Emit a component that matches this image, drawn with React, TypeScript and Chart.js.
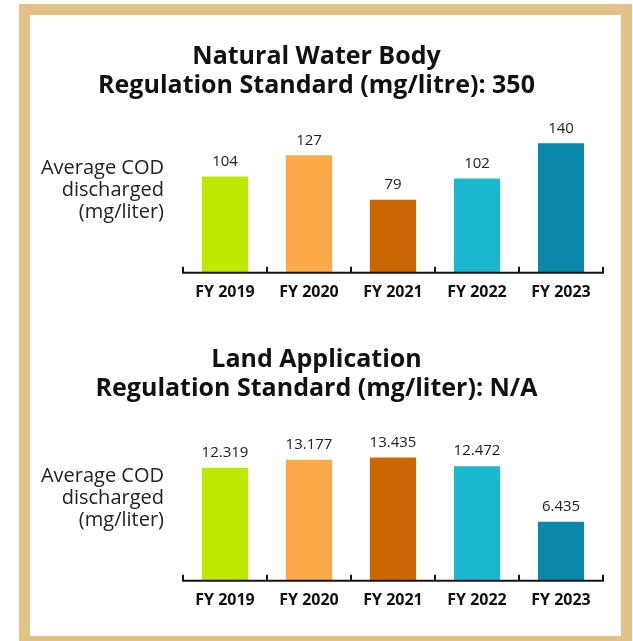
import React, { useEffect, useRef } from "react";
import { Chart, registerables } from "chart.js";

Chart.register(...registerables);

const categories = ["FY 2019", "FY 2020", "FY 2021", "FY 2022", "FY 2023"];
const waterValues = [104, 127, 79, 102, 140];
const landValues = [12.319, 13.177, 13.435, 12.472, 6.435];
const barColors = ["#BDE800", "#FCA94A", "#CC6603", "#1AB7CF", "#0A88A9"];
const waterTitle = ["Natural Water Body", "Regulation Standard (mg/litre): 350"];
const landTitle = ["Land Application", "Regulation Standard (mg/liter): N/A"];
const yLabelLines = ["Average COD", "discharged", "(mg/liter)"];

const FONT = "'Open Sans', 'Noto Sans', sans-serif";

const decorPlugin = {
  id: "codDecor",
  afterDatasetsDraw(chart: any, _args: any, opts: any) {
    const { ctx, chartArea } = chart;
    const xs = chart.scales.x;
    const n = chart.data.labels.length;
    const step = xs.width / n;
    ctx.save();
    // axis line
    ctx.strokeStyle = "#151515";
    ctx.lineWidth = 2;
    ctx.beginPath();
    ctx.moveTo(xs.left - 1, chartArea.bottom);
    ctx.lineTo(xs.right + 1, chartArea.bottom);
    ctx.stroke();
    // upward ticks at category boundaries
    for (let i = 0; i <= n; i++) {
      const px = xs.left + i * step;
      ctx.beginPath();
      ctx.moveTo(px, chartArea.bottom);
      ctx.lineTo(px, chartArea.bottom - 6);
      ctx.stroke();
    }
    // value labels
    const meta = chart.getDatasetMeta(0);
    const data = chart.data.datasets[0].data;
    ctx.fillStyle = "#222";
    ctx.font = `15px ${FONT}`;
    ctx.textAlign = "center";
    ctx.textBaseline = "middle";
    meta.data.forEach((bar: any, i: number) => {
      ctx.fillText(String(data[i]), bar.x, bar.y - 15);
    });
    // y label
    ctx.font = `20px ${FONT}`;
    ctx.textAlign = "right";
    const lines: string[] = opts.lines || [];
    const offs = [-105, -83, -61];
    lines.forEach((t, i) => {
      ctx.fillText(t, chartArea.left - 19, chartArea.bottom + offs[i]);
    });
    ctx.restore();
  },
};

type PanelProps = {
  values: number[];
  title: string[];
  max: number;
  top: number;
  height: number;
  titlePadTop: number;
  titlePadBottom: number;
  bottomPad: number;
};

function BarPanel(p: PanelProps) {
  const ref = useRef<HTMLCanvasElement | null>(null);
  useEffect(() => {
    if (!ref.current) return;
    const chart = new Chart(ref.current, {
      type: "bar",
      data: {
        labels: categories,
        datasets: [
          {
            data: p.values,
            backgroundColor: barColors,
            borderWidth: 0,
            categoryPercentage: 1,
            barPercentage: 0.55,
          },
        ],
      },
      options: {
        responsive: false,
        animation: false,
        layout: { padding: { left: 0, right: 18, top: 0, bottom: p.bottomPad } },
        plugins: {
          legend: { display: false },
          tooltip: { enabled: false },
          title: {
            display: true,
            text: p.title,
            color: "#111",
            font: { family: FONT, size: 25, weight: "bold", lineHeight: 29 / 25 },
            padding: { top: p.titlePadTop, bottom: p.titlePadBottom },
          },
          codDecor: { lines: yLabelLines },
        } as any,
        scales: {
          x: {
            grid: { display: false, drawTicks: false },
            border: { display: false },
            ticks: {
              color: "#111",
              padding: 10,
              font: { family: FONT, size: 16, weight: "bold" },
              maxRotation: 0,
            },
          },
          y: {
            min: 0,
            max: p.max,
            grid: { display: false, drawTicks: false },
            border: { display: false },
            ticks: { display: false },
            afterFit: (scale: any) => {
              scale.width = 153;
            },
          },
        },
      },
      plugins: [decorPlugin],
    });
    return () => chart.destroy();
  }, []);
  return (
    <canvas
      ref={ref}
      width={591}
      height={p.height}
      style={{ position: "absolute", left: 30, top: p.top, width: 591, height: p.height }}
    />
  );
}

export default function App() {
  return (
    <div
      style={{
        position: "fixed",
        left: 0,
        top: 0,
        width: 633,
        height: 641,
        background: "#fff",
        overflow: "hidden",
      }}
    >
      <div
        style={{
          position: "absolute",
          left: 19,
          top: 4,
          width: 613,
          height: 643,
          border: "11px solid #E3C187",
          boxSizing: "border-box",
          background: "#fff",
        }}
      />
      <BarPanel
        values={waterValues}
        title={waterTitle}
        max={150}
        top={15}
        height={305}
        titlePadTop={27.5}
        titlePadBottom={33.5}
        bottomPad={8}
      />
      <BarPanel
        values={landValues}
        title={landTitle}
        max={15}
        top={320}
        height={316}
        titlePadTop={25.5}
        titlePadBottom={39.5}
        bottomPad={16}
      />
    </div>
  );
}
